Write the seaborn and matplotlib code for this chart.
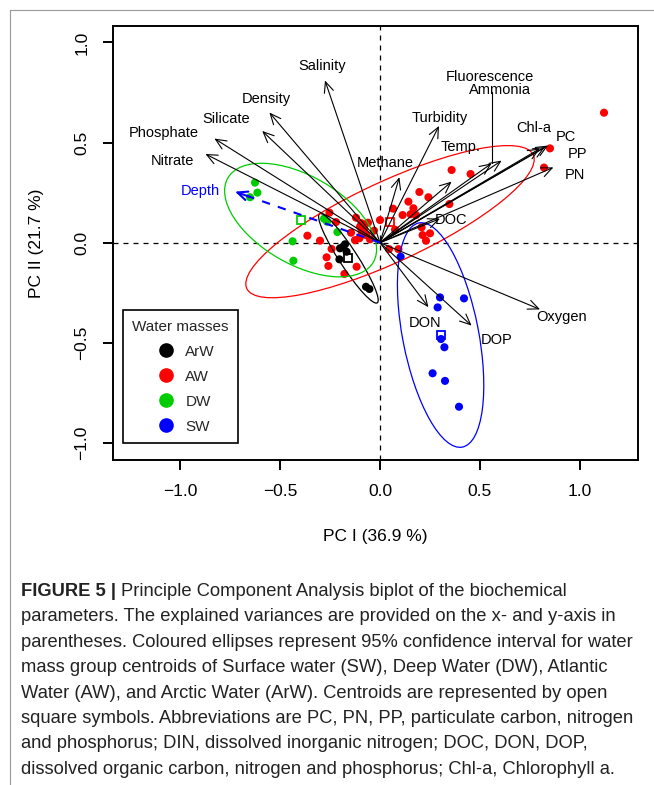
import matplotlib
matplotlib.use("Agg")
import matplotlib.pyplot as plt
from matplotlib.patches import Ellipse
from matplotlib.lines import Line2D
import pandas as pd
import seaborn as sns

# Sample scores on PC I / PC II, per water mass
arw_x = [-0.200, -0.175, -0.167, -0.185, -0.203, -0.070, -0.053]
arw_y = [-0.028, -0.008, -0.045, -0.020, -0.083, -0.220, -0.231]

aw_x = [-0.253, -0.220, -0.363, -0.300, -0.242, -0.267, -0.258, -0.117, -0.178,
        -0.145, -0.120, -0.092, -0.092, -0.103, -0.125, -0.070, -0.050, -0.100,
        -0.080, 0.000, 0.065, 0.075, 0.045, 0.092, -0.060, -0.030,
        0.850, 0.820, 0.358, 0.453, 0.197, 0.242, 0.142, 0.347, 0.167, 0.113,
        0.153, 0.180, 0.208, 0.250, 0.213, 0.230, 1.120]
aw_y = [0.150, 0.103, 0.035, 0.010, -0.031, -0.073, -0.116, -0.120, -0.156,
        0.050, 0.125, 0.097, 0.055, 0.022, 0.013, 0.038, 0.017, 0.080,
        0.070, 0.113, 0.170, 0.065, -0.032, -0.032, 0.100, 0.060,
        0.471, 0.375, 0.363, 0.343, 0.253, 0.227, 0.205, 0.193, 0.172, 0.138,
        0.142, 0.138, 0.077, 0.047, 0.038, 0.010, 0.649]

dw_x = [-0.625, -0.613, -0.650, -0.280, -0.265, -0.213, -0.437, -0.433]
dw_y = [0.300, 0.250, 0.227, 0.120, 0.105, 0.053, 0.007, -0.090]

sw_x = [0.103, 0.300, 0.420, 0.288, 0.305, 0.322, 0.263, 0.325, 0.395]
sw_y = [-0.070, -0.273, -0.278, -0.323, -0.481, -0.522, -0.652, -0.690, -0.819]

masses = ["ArW", "AW", "DW", "SW"]
mass_colors = ["black", "#FF0000", "#00CD00", "#0000FF"]

# group centroids and 95% ellipses (semi-axes, rotation in degrees)
cent_x = [-0.158, 0.050, -0.397, 0.303]
cent_y = [-0.078, 0.105, 0.113, -0.461]
ell_a = [0.265, 0.79, 0.42, 0.57]
ell_b = [0.045, 0.20, 0.22, 0.19]
ell_ang = [-57, 25, -30, -79]

# variable loadings (arrow tips)
var_names = ["Salinity", "Density", "Silicate", "Phosphate", "Nitrate", "Methane",
             "Turbidity", "Temp.", "Fluorescence", "Ammonia", "Chl-a", "PC", "PP",
             "PN", "DOC", "Oxygen", "DON", "DOP"]
var_x = [-0.275, -0.553, -0.589, -0.828, -0.873, 0.097, 0.295, 0.358, 0.558, 0.608,
         0.800, 0.840, 0.825, 0.867, 0.300, 0.800, 0.242, 0.458]
var_y = [0.810, 0.650, 0.558, 0.520, 0.443, 0.327, 0.583, 0.305, 0.396, 0.410,
         0.470, 0.485, 0.478, 0.376, 0.120, -0.333, -0.322, -0.414]
depth_x, depth_y = -0.725, 0.255

# label positions for the arrows
lab_x = [-0.29, -0.57, -0.77, -1.08, -1.04, 0.025, 0.297, 0.405, 0.55, 0.60,
         0.77, 0.93, 0.987, 0.975, 0.357, 0.91, 0.225, 0.583]
lab_y = [0.88, 0.72, 0.62, 0.546, 0.41, 0.398, 0.624, 0.48, 0.826, 0.762,
         0.574, 0.526, 0.441, 0.338, 0.113, -0.372, -0.40, -0.486]

caption = [
    "parameters. The explained variances are provided on the x- and y-axis in",
    "parentheses. Coloured ellipses represent 95% confidence interval for water",
    "mass group centroids of Surface water (SW), Deep Water (DW), Atlantic",
    "Water (AW), and Arctic Water (ArW). Centroids are represented by open",
    "square symbols. Abbreviations are PC, PN, PP, particulate carbon, nitrogen",
    "and phosphorus; DIN, dissolved inorganic nitrogen; DOC, DON, DOP,",
    "dissolved organic carbon, nitrogen and phosphorus; Chl-a, Chlorophyll a.",
]

sns.set_theme(style="white")
plt.rcParams["font.family"] = ["Liberation Sans", "DejaVu Sans"]

W, H = 654, 785
fig = plt.figure(figsize=(W / 100, H / 100), dpi=100)
ax = fig.add_axes([113 / W, 1 - 460 / H, 525 / W, 434 / H])

df = pd.concat([
    pd.DataFrame({"PC1": arw_x, "PC2": arw_y, "mass": "ArW"}),
    pd.DataFrame({"PC1": aw_x, "PC2": aw_y, "mass": "AW"}),
    pd.DataFrame({"PC1": dw_x, "PC2": dw_y, "mass": "DW"}),
    pd.DataFrame({"PC1": sw_x, "PC2": sw_y, "mass": "SW"}),
])
pal = dict(zip(masses, mass_colors))
sns.scatterplot(data=df, x="PC1", y="PC2", hue="mass", palette=pal, s=34,
                linewidth=0, legend=False, ax=ax, zorder=3)

for i, m in enumerate(masses):
    ax.plot(cent_x[i], cent_y[i], marker="s", ms=5.5, mfc="none",
            mec=mass_colors[i], mew=1.3, zorder=4)
    ax.add_patch(Ellipse((cent_x[i], cent_y[i]), 2 * ell_a[i], 2 * ell_b[i],
                         angle=ell_ang[i], fill=False, ec=mass_colors[i],
                         lw=0.9, zorder=4))

ax.axhline(0, color="black", lw=0.9, ls=(0, (4, 4)), zorder=1)
ax.axvline(0, color="black", lw=0.9, ls=(0, (4, 4)), zorder=1)

for i, name in enumerate(var_names):
    ax.annotate("", xy=(var_x[i], var_y[i]), xytext=(0, 0),
                arrowprops=dict(arrowstyle="->,head_length=0.45,head_width=0.2",
                                color="black", lw=0.8, shrinkA=0, shrinkB=0,
                                mutation_scale=17), zorder=5)
    ax.text(lab_x[i], lab_y[i], name, ha="center", va="center", fontsize=10.5,
            color="black", zorder=6)

# leader line from Fluorescence/Ammonia labels
ax.plot([var_x[8], var_x[8]], [var_y[8], 0.75], color="black", lw=0.8, zorder=5)

# depth as dashed blue arrow
ax.plot([0, depth_x * 0.97], [0, depth_y * 0.97], color="#0000FF", lw=1.5,
        ls=(0, (4, 4)), zorder=5)
ax.annotate("", xy=(depth_x, depth_y), xytext=(depth_x * 0.9, depth_y * 0.9),
            arrowprops=dict(arrowstyle="->,head_length=0.45,head_width=0.2",
                            color="#0000FF", lw=1.5, shrinkA=0, shrinkB=0,
                            mutation_scale=16), zorder=5)
ax.text(-0.9, 0.258, "Depth", ha="center", va="center", fontsize=10.5,
        color="#0000FF", zorder=6)

ax.set_xlim(-1.335, 1.29)
ax.set_ylim(-1.085, 1.082)
ax.set_xticks([-1.0, -0.5, 0.0, 0.5, 1.0])
ax.set_yticks([-1.0, -0.5, 0.0, 0.5, 1.0])
ax.set_xticklabels(["\u22121.0", "\u22120.5", "0.0", "0.5", "1.0"])
ax.set_yticklabels(["\u22121.0", "\u22120.5", "0.0", "0.5", "1.0"])
ax.tick_params(direction="out", length=7, width=1.4, labelsize=12.5, pad=10,
               color="black", labelcolor="black")
ax.tick_params(axis="both", which="both", bottom=True, left=True)
for lab in ax.get_yticklabels():
    lab.set_rotation(90)
    lab.set_va("center")
for sp in ax.spines.values():
    sp.set_color("black")
    sp.set_linewidth(1.4)
ax.set_xlabel("")
ax.set_ylabel("")

handles = [Line2D([], [], ls="none", marker="o", ms=9.5, mfc=c, mec=c)
           for c in mass_colors]
leg = ax.legend(handles, masses, title="Water masses", loc="lower left",
                bbox_to_anchor=(10 / 525, 17.3 / 434), borderaxespad=0,
                frameon=True, fancybox=False, edgecolor="black", framealpha=1,
                fontsize=11, title_fontsize=11, handlelength=2.6,
                handletextpad=0.0, labelspacing=0.72, borderpad=0.6)
leg.get_frame().set_linewidth(1.2)

fig.text(375 / W, 1 - 537 / H, "PC I (36.9 %)", ha="center", va="center",
         fontsize=12.5, color="black")
fig.text(36 / W, 1 - 243 / H, "PC II (21.7 %)", ha="center", va="center",
         rotation=90, fontsize=12.5, color="black")

# caption
cap_x = 21 / W
cap_fs = 13.2
t0 = fig.text(cap_x, 1 - 596 / H, "FIGURE 5 | ", fontsize=cap_fs, weight="bold",
              color="#222222", va="baseline")
r = fig.canvas.get_renderer()
w0 = t0.get_window_extent(r).width / W
fig.text(cap_x + w0, 1 - 596 / H,
         "Principle Component Analysis biplot of the biochemical",
         fontsize=cap_fs, color="#222222", va="baseline")
for k, line in enumerate(caption):
    fig.text(cap_x, 1 - (596 + 25.4 * (k + 1)) / H, line, fontsize=cap_fs,
             color="#222222", va="baseline")

# thin grey frame at the top-left of the page
fig.add_artist(Line2D([10 / W, 10 / W], [1 - 10 / H, 0], color="#999999", lw=0.8))
fig.add_artist(Line2D([10 / W, 1], [1 - 10 / H, 1 - 10 / H], color="#999999", lw=0.8))

fig.savefig("out.png", dpi=100)
